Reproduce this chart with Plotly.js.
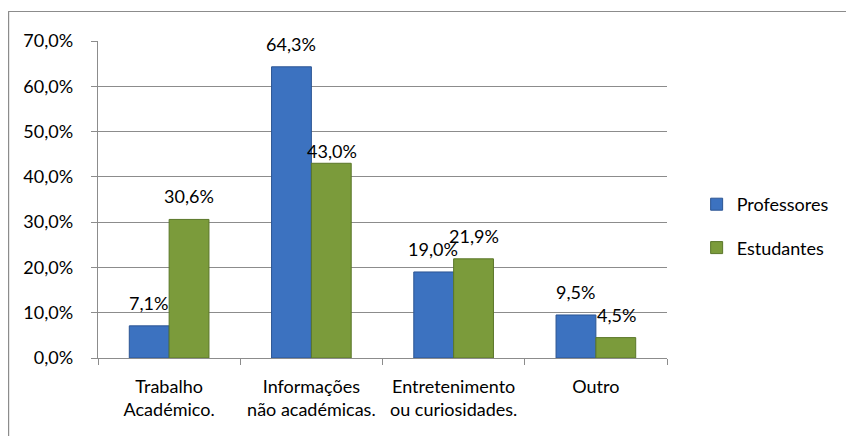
<!DOCTYPE html>
<html>
<head>
<meta charset="utf-8">
<script src="https://cdn.plot.ly/plotly-3.0.1.min.js"></script>
<style>
html,body{margin:0;padding:0;background:#fff;overflow:hidden;}
#chart{width:846px;height:436px;}
</style>
</head>
<body>
<div id="chart"></div>
<script>
const categories = ["Trabalho<br>Académico.", "Informações<br>não académicas.", "Entretenimento<br>ou curiosidades.", "Outro"];
const seriesNames = ["Professores", "Estudantes"];
const professores = [7.1, 64.3, 19.0, 9.5];
const estudantes = [30.6, 43.0, 21.9, 4.5];
const yTicks = [0, 10, 20, 30, 40, 50, 60, 70];
const labelLift = [[23, 23, 23, 23], [23, 12, 23, 23]];

const W = 846, H = 436;
const L = 98, R = 172, T = 41, B = 78;
const plotW = W - L - R, plotH = H - T - B;
const bargap = 0.44;
const font = "Lato, 'Noto Sans', sans-serif";

const colors = ["#3c72c0", "#7b9b3b"];
const lineColors = ["#2c5593", "#5a7629"];
const seriesData = [professores, estudantes];

const traces = seriesData.map((vals, i) => ({
  type: "bar",
  name: seriesNames[i],
  legendgroup: "g" + i,
  x: categories,
  y: vals,
  marker: {color: colors[i], line: {color: lineColors[i], width: 1}},
  hoverinfo: "none"
}));

const catW = plotW / categories.length;
const barW = catW * (1 - bargap) / 2;
const annotations = [];
seriesData.forEach((vals, i) => {
  vals.forEach((v, j) => {
    annotations.push({
      x: categories[j], y: v, xref: "x", yref: "y",
      text: v.toFixed(1).replace(".", ",") + "%",
      showarrow: false,
      xshift: (i === 0 ? -1 : 1) * barW / 2,
      yshift: labelLift[i][j],
      yanchor: "middle",
      font: {family: font, size: 18, color: "#000"}
    });
  });
});

const px2x = p => (p - L) / plotW;
const px2y = p => (H - B - p) / plotH;
const shapes = [
  {type: "line", xref: "paper", yref: "paper", x0: px2x(7), x1: px2x(W + 20), y0: px2y(11.5), y1: px2y(11.5), line: {color: "#8c8c8c", width: 1.2}},
  {type: "line", xref: "paper", yref: "paper", x0: px2x(7.5), x1: px2x(7.5), y0: px2y(11.5), y1: px2y(H + 20), line: {color: "#8c8c8c", width: 1.2}}
];

const layout = {
  width: W, height: H,
  margin: {l: L, r: R, t: T, b: B, pad: 0},
  paper_bgcolor: "#fff", plot_bgcolor: "#fff",
  barmode: "group", bargap: bargap, bargroupgap: 0,
  separators: ",.",
  font: {family: font, size: 18, color: "#000"},
  showlegend: true,
  legend: {x: px2x(704), y: px2y(226), xanchor: "left", yanchor: "middle",
           font: {family: font, size: 18, color: "#000"}, itemwidth: 30,
           traceorder: "grouped", tracegroupgap: 17,
           bgcolor: "rgba(0,0,0,0)"},
  xaxis: {type: "category", showline: true, linecolor: "#8c8c8c", linewidth: 1.2,
          ticks: "outside", tickson: "boundaries", ticklen: 6, tickcolor: "#8c8c8c",
          ticklabelstandoff: 12,
          showgrid: false, tickfont: {family: font, size: 18, color: "#000"}, fixedrange: true},
  yaxis: {range: [0, 70], tickvals: yTicks, ticktext: yTicks.map(v => v.toFixed(1).replace(".", ",") + "%"),
          showline: true, linecolor: "#8c8c8c", linewidth: 1.2,
          ticks: "outside", ticklen: 6, tickcolor: "#8c8c8c",
          showgrid: true, gridcolor: "#8c8c8c", gridwidth: 1.2, zeroline: false,
          ticklabelstandoff: 14, tickfont: {family: font, size: 18, color: "#000"}, fixedrange: true},
  annotations: annotations,
  shapes: shapes
};

Plotly.newPlot("chart", traces, layout, {displayModeBar: false, staticPlot: true});
</script>
</body>
</html>
